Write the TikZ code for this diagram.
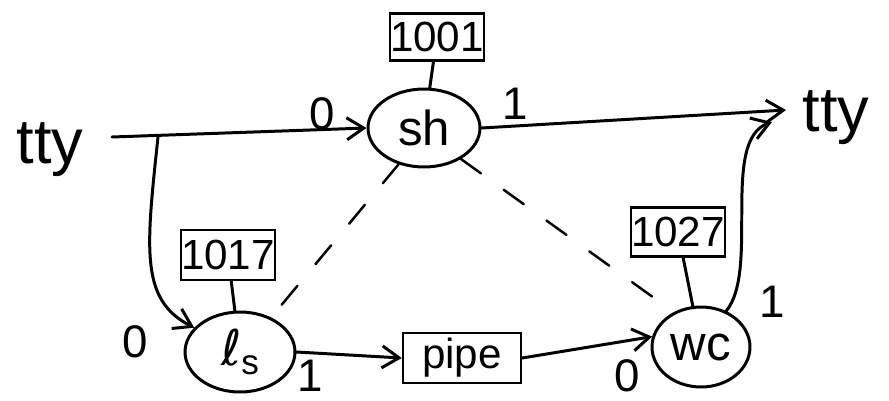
\documentclass[tikz,border=0pt]{standalone}
\usepackage{fontspec}
\setmainfont{Liberation Sans}
\newfontfamily\symfont{DejaVu Sans}
\usetikzlibrary{shapes.geometric,arrows.meta}
\begin{document}
\begin{tikzpicture}[x=0.02cm,y=-0.02cm,
  line width=1.7pt, line cap=round,
  arr/.style={-{Straight Barb[length=3.4mm,width=4.4mm]}},
  ell/.style={draw,ellipse,inner sep=0pt,font=\fontsize{28}{30}\selectfont},
  numbox/.style={draw,rectangle,inner sep=0pt,line width=1.4pt,font=\fontsize{24}{26}\selectfont},
  lbl/.style={font=\fontsize{26}{28}\selectfont,inner sep=0pt},
  tty/.style={font=\fontsize{36}{38}\selectfont,inner sep=0pt},
  dashline/.style={dashed,dash pattern=on 14pt off 16pt,line width=1.4pt}]
\useasboundingbox (0,0) rectangle (889,400);
% nodes
\node[tty] (ttyL) at (50,150) {tty};
\node[tty] (ttyR) at (836,118) {tty};
\node[ell,minimum width=2.24cm,minimum height=1.56cm] (sh) at (424,128) {sh};
\node[ell,minimum width=2.2cm,minimum height=1.6cm] (ls) at (240,352) {{\symfont ℓ}\raisebox{-0.35ex}{\fontsize{20}{20}\selectfont s}};
\node[ell,minimum width=1.96cm,minimum height=1.6cm] (wc) at (701,347) {wc};
\node[numbox,minimum width=2.36cm,minimum height=1cm] (pipe) at (462,358) {pipe};
\node[numbox,minimum width=1.8cm,minimum height=0.94cm] (b1001) at (437,37) {1001};
\node[numbox,minimum width=1.54cm,minimum height=1.0cm] (b1017) at (228,255) {1017};
\node[numbox,minimum width=1.54cm,minimum height=0.98cm] (b1027) at (678,232) {1027};
\coordinate (start) at (112,137);
\coordinate (split) at (158,137);
\coordinate (ttyin) at (786,110);
% labels
\node[lbl] (l0a) at (322,114) {0};
\node[lbl] (l1a) at (515,104) {1};
\node[lbl] (l0b) at (135,342) {0};
\node[lbl] (l1b) at (310,376) {1};
\node[lbl] (l0c) at (627,376) {0};
\node[lbl] (l1c) at (772,302) {1};
% connectors
\draw[arr] (start) -- (sh.west);
\draw[arr] (split) .. controls (146,250) and (140,300) .. (ls.152);
\draw[arr] (sh.east) -- (ttyin);
\draw[arr] (wc.55) .. controls (760,270) and (720,140) .. (772,122);
\draw[arr] (ls.east) -- (pipe.west);
\draw[arr] (pipe.east) -- (wc.168);
\draw (b1001) -- (sh);
\draw (b1017) -- (ls);
\draw (b1027) -- (wc);
\draw[dashline] (sh.235) -- (ls.48);
\draw[dashline] (sh.-40) -- (wc.128);
\end{tikzpicture}
\end{document}
